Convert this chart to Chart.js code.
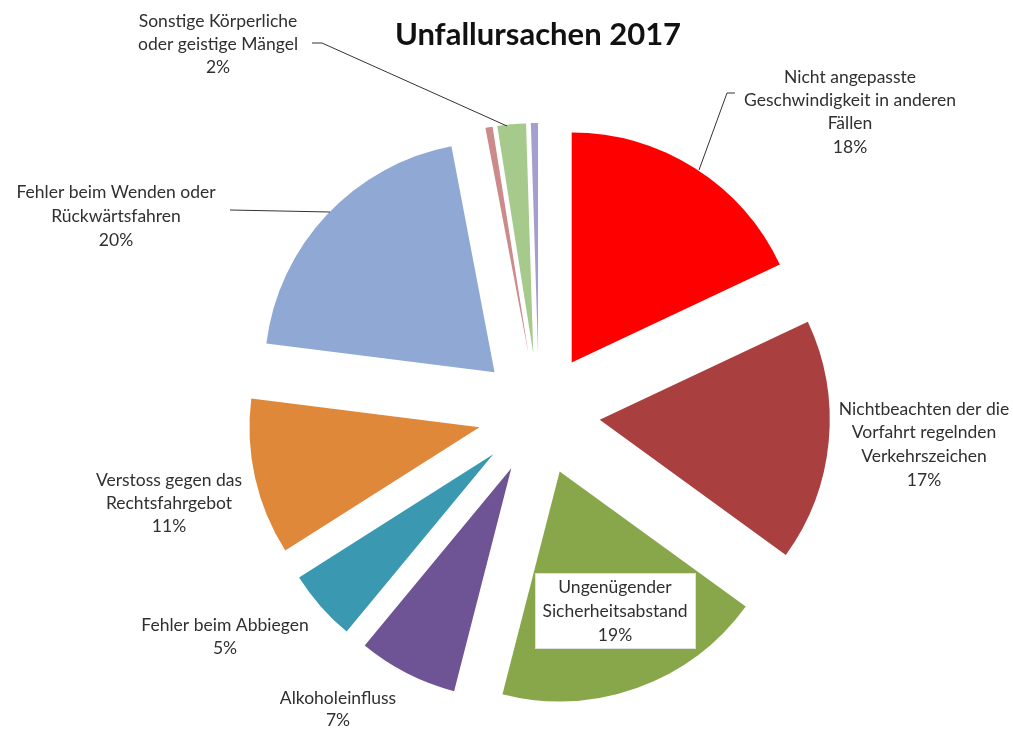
<!DOCTYPE html>
<html>
<head>
<meta charset="utf-8">
<script src="https://cdn.jsdelivr.net/npm/chart.js@4/dist/chart.umd.min.js"></script>
<style>
  html, body { margin: 0; padding: 0; background: #ffffff; }
  #wrap { width: 1013px; height: 729px; position: relative; }
</style>
</head>
<body>
<div id="wrap"><canvas id="c"></canvas></div>
<script>
// ---- data ----
const chartTitle = 'Unfallursachen 2017';

const categories = [
  ['Nicht angepasste', 'Geschwindigkeit in anderen', 'Fällen'],
  ['Nichtbeachten der die', 'Vorfahrt regelnden', 'Verkehrszeichen'],
  ['Ungenügender', 'Sicherheitsabstand'],
  ['Alkoholeinfluss'],
  ['Fehler beim Abbiegen'],
  ['Verstoss gegen das', 'Rechtsfahrgebot'],
  ['Fehler beim Wenden oder', 'Rückwärtsfahren'],
  ['Übermüdung'],
  ['Sonstige Körperliche', 'oder geistige Mängel'],
  ['Übrige Ursachen']
];

// share of all accidents, percent
const shares = [18, 17, 19, 7, 5, 11, 20, 0.5, 2, 0.5];

const sliceColors = [
  '#FF0000', '#AA3F3F', '#88A64A', '#6E5494', '#3A99B0',
  '#E0883A', '#8FA8D4', '#CC8A8A', '#A6C98C', '#A59FD0'
];

// ---- layout ----
const EXPLODE = 61;          // distance every slice is pulled out of the centre
const PIE_RADIUS = 230;
const FONT = '"Lato", "Open Sans", sans-serif';
const TEXT_COLOR = '#303030';

// where each slice's label sits (centre of first line) and its leader line
const labelLayout = {
  0: { x: 850, y: 77,  lh: 23.3, leader: [[735, 93], [727, 93], [699, 170]] },
  1: { x: 924, y: 409, lh: 23.7 },
  2: { x: 615, y: 587, lh: 24, box: [535, 573, 160, 75] },
  3: { x: 338, y: 698, lh: 22 },
  4: { x: 225, y: 625, lh: 23 },
  5: { x: 169, y: 480, lh: 23 },
  6: { x: 116, y: 192, lh: 24, leader: [[230, 210], [330, 212]] },
  8: { x: 218, y: 21,  lh: 23, leader: [[312, 43], [322, 43], [507, 126]] }
};

// pulls every arc outward along its bisector
const explodePlugin = {
  id: 'explode',
  afterDatasetUpdate(chart, args) {
    args.meta.data.forEach(arc => {
      const mid = (arc.startAngle + arc.endAngle) / 2;
      arc.x += Math.cos(mid) * EXPLODE;
      arc.y += Math.sin(mid) * EXPLODE;
    });
  }
};

// title, data labels and leader lines
const labelPlugin = {
  id: 'sliceLabels',
  afterDraw(chart) {
    const ctx = chart.ctx;
    const total = shares.reduce((a, b) => a + b, 0);
    ctx.save();

    ctx.fillStyle = '#111111';
    ctx.font = 'bold 31px ' + FONT;
    ctx.textAlign = 'center';
    ctx.textBaseline = 'middle';
    ctx.fillText(chartTitle, 538, 35);

    ctx.font = '17.5px ' + FONT;
    Object.keys(labelLayout).forEach(k => {
      const i = Number(k);
      const L = labelLayout[i];
      const lines = categories[i].concat([Math.round(shares[i] / total * 100) + '%']);
      if (L.leader) {
        ctx.strokeStyle = '#333333';
        ctx.lineWidth = 1;
        ctx.beginPath();
        L.leader.forEach((p, j) => j ? ctx.lineTo(p[0], p[1]) : ctx.moveTo(p[0], p[1]));
        ctx.stroke();
      }
      if (L.box) {
        ctx.fillStyle = '#ffffff';
        ctx.fillRect(L.box[0], L.box[1], L.box[2], L.box[3]);
        ctx.strokeStyle = '#e0e0e0';
        ctx.strokeRect(L.box[0] + 0.5, L.box[1] + 0.5, L.box[2], L.box[3]);
      }
      ctx.fillStyle = TEXT_COLOR;
      lines.forEach((t, j) => ctx.fillText(t, L.x, L.y + j * L.lh));
    });
    ctx.restore();
  }
};

new Chart(document.getElementById('c'), {
  type: 'pie',
  data: {
    labels: categories.map(c => c.join(' ')),
    datasets: [{
      data: shares,
      backgroundColor: sliceColors,
      borderWidth: 0
    }]
  },
  options: {
    responsive: true,
    maintainAspectRatio: false,
    animation: false,
    events: [],
    radius: PIE_RADIUS,
    layout: { padding: { left: 65, right: 0, top: 99, bottom: 0 } },
    plugins: {
      legend: { display: false },
      title: { display: false },
      tooltip: { enabled: false }
    }
  },
  plugins: [explodePlugin, labelPlugin]
});
</script>
</body>
</html>
